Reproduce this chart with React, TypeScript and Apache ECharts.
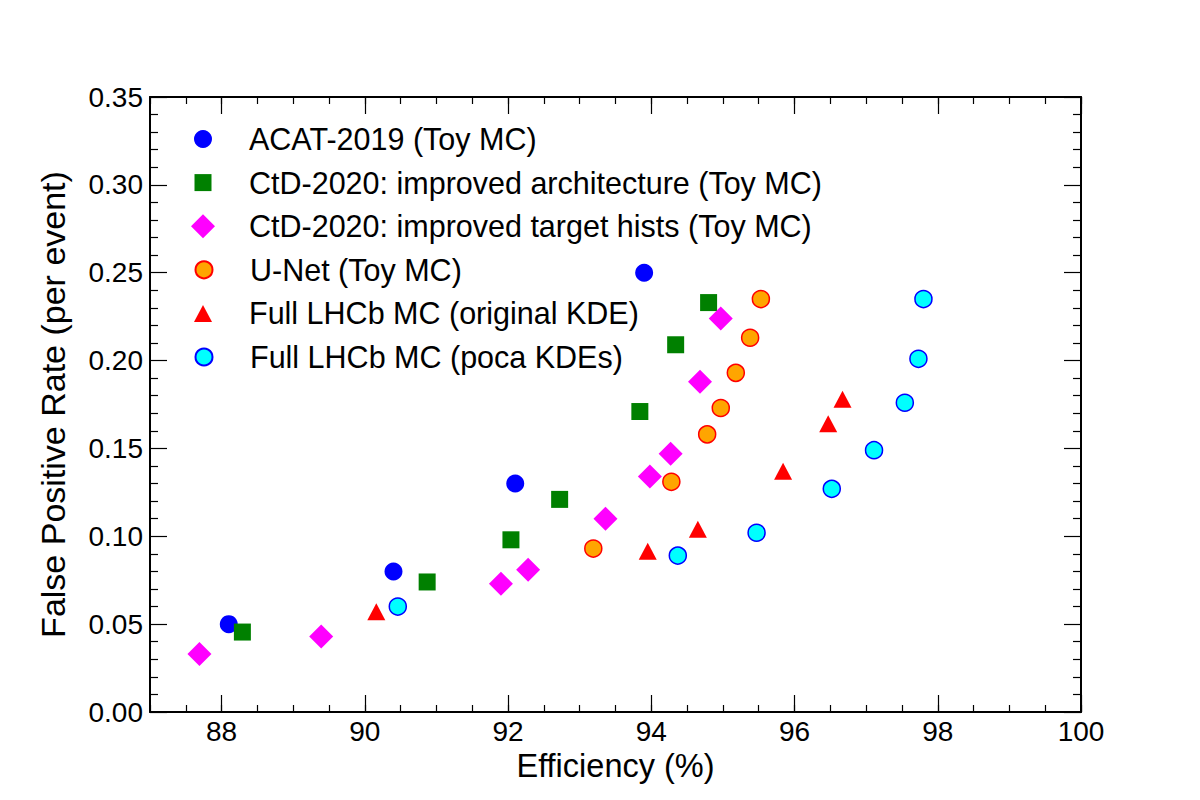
import React, { useEffect, useRef } from "react";
import * as echarts from "echarts";

const acat2019: [number, number][] = [
  [88.1, 0.05], [90.4, 0.08], [92.1, 0.13], [93.9, 0.25],
];
const ctdArch: [number, number][] = [
  [88.29, 0.0455], [90.87, 0.074], [92.04, 0.098], [92.72, 0.121],
  [93.84, 0.171], [94.34, 0.209], [94.8, 0.233],
];
const ctdTarget: [number, number][] = [
  [87.69, 0.033], [89.39, 0.043], [91.9, 0.073], [92.28, 0.081], [93.36, 0.11],
  [93.98, 0.134], [94.27, 0.147], [94.68, 0.188], [94.97, 0.224],
];
const uNet: [number, number][] = [
  [93.19, 0.093], [94.28, 0.131], [94.78, 0.158], [94.97, 0.173],
  [95.18, 0.193], [95.38, 0.213], [95.53, 0.235],
];
const lhcbOrig: [number, number][] = [
  [90.16, 0.057], [93.95, 0.0915], [94.65, 0.104], [95.84, 0.137],
  [96.47, 0.164], [96.67, 0.178],
];
const lhcbPoca: [number, number][] = [
  [90.46, 0.06], [94.37, 0.089], [95.47, 0.102], [96.52, 0.127],
  [97.11, 0.149], [97.54, 0.176], [97.73, 0.201], [97.8, 0.235],
];

const seriesNames = [
  "ACAT-2019 (Toy MC)",
  "CtD-2020: improved architecture (Toy MC)",
  "CtD-2020: improved target hists (Toy MC)",
  "U-Net (Toy MC)",
  "Full LHCb MC (original KDE)",
  "Full LHCb MC (poca KDEs)",
];
const legendIcons = ["circle", "rect", "diamond", "circle", "triangle", "circle"];
const legendSizes: [number, number][] = [[18, 18], [17, 17], [24, 24], [17, 17], [18, 17], [17, 17]];

const FONT = "Liberation Sans, Arial, Helvetica, sans-serif";

export default function App() {
  const ref = useRef<HTMLDivElement>(null);
  useEffect(() => {
    if (!ref.current) return;
    const chart = echarts.init(ref.current, undefined, { renderer: "svg" });
    const L = 150, R = 119, T = 97, B = 88;
    const plotW = 1200 - L - R;
    const grid2Left = L + plotW / 13;
    const tickStyle = { color: "#000", width: 1.2 };
    const LEG_FS = 30.5;
    const LEG_LH = 31;
    const iconCx = 203;
    const textX = 249;
    const rowY0 = 139;
    const rowDy = 43.6;
    const legends = seriesNames.map((name, i) => {
      const [w, h] = legendSizes[i];
      return {
        orient: "vertical",
        left: iconCx - w / 2,
        top: rowY0 + i * rowDy - Math.max(h, LEG_LH) / 2,
        padding: 0,
        itemWidth: w,
        itemHeight: h,
        selectedMode: false,
        textStyle: {
          fontFamily: FONT,
          fontSize: LEG_FS,
          lineHeight: LEG_LH,
          color: "#000",
          padding: [0, 0, 0, textX - (iconCx + w / 2) - 5],
        },
        data: [{ name, icon: legendIcons[i] }],
      };
    });
    chart.setOption({
      animation: false,
      backgroundColor: "#fff",
      textStyle: { fontFamily: FONT },
      grid: [
        { left: L, right: R, top: T, bottom: B },
        { left: grid2Left, right: R, top: T, bottom: B },
      ],
      legend: legends,
      xAxis: [
        {
          type: "value",
          gridIndex: 0,
          position: "bottom",
          min: 87,
          max: 100,
          interval: 0.5,
          name: "Efficiency (%)",
          nameLocation: "middle",
          nameGap: 36,
          nameTextStyle: { fontFamily: FONT, fontSize: 32.5, color: "#000" },
          axisLine: { show: true, onZero: false, lineStyle: { color: "#000", width: 2 } },
          axisTick: { show: true, inside: true, length: 7, lineStyle: tickStyle },
          axisLabel: {
            fontFamily: FONT,
            fontSize: 28,
            color: "#000",
            margin: 5,
            formatter: (v: number) => (Math.abs(v % 2) < 1e-9 ? String(v) : ""),
          },
          splitLine: { show: false },
        },
        {
          type: "value",
          gridIndex: 0,
          position: "top",
          min: 87,
          max: 100,
          interval: 0.5,
          axisLine: { show: true, onZero: false, lineStyle: { color: "#000", width: 2 } },
          axisTick: { show: true, inside: true, length: 7, lineStyle: tickStyle },
          axisLabel: { show: false },
          splitLine: { show: false },
        },
        {
          type: "value",
          gridIndex: 1,
          position: "bottom",
          min: 88,
          max: 100,
          interval: 2,
          axisLine: { show: false },
          axisTick: { show: true, inside: true, length: 17, lineStyle: tickStyle },
          axisLabel: { show: false },
          splitLine: { show: false },
        },
        {
          type: "value",
          gridIndex: 1,
          position: "top",
          min: 88,
          max: 100,
          interval: 2,
          axisLine: { show: false },
          axisTick: { show: true, inside: true, length: 17, lineStyle: tickStyle },
          axisLabel: { show: false },
          splitLine: { show: false },
        },
      ],
      yAxis: [
        {
          type: "value",
          gridIndex: 0,
          position: "left",
          min: 0,
          max: 0.35,
          interval: 0.05,
          name: "False Positive Rate (per event)",
          nameLocation: "middle",
          nameGap: 80,
          nameTextStyle: { fontFamily: FONT, fontSize: 34, color: "#000" },
          axisLine: { show: true, onZero: false, lineStyle: { color: "#000", width: 2 } },
          axisTick: { show: true, inside: true, length: 17, lineStyle: tickStyle },
          minorTick: { show: true, splitNumber: 5, length: 8, lineStyle: tickStyle },
          axisLabel: {
            fontFamily: FONT,
            fontSize: 28,
            color: "#000",
            margin: 7,
            formatter: (v: number) => v.toFixed(2),
          },
          splitLine: { show: false },
          minorSplitLine: { show: false },
        },
        {
          type: "value",
          gridIndex: 0,
          position: "right",
          min: 0,
          max: 0.35,
          interval: 0.05,
          axisLine: { show: true, onZero: false, lineStyle: { color: "#000", width: 2 } },
          axisTick: { show: true, inside: true, length: 17, lineStyle: tickStyle },
          minorTick: { show: true, splitNumber: 5, length: 8, lineStyle: tickStyle },
          axisLabel: { show: false },
          splitLine: { show: false },
          minorSplitLine: { show: false },
        },
        {
          type: "value",
          gridIndex: 1,
          min: 0,
          max: 0.35,
          show: false,
        },
      ],
      series: [
        {
          name: seriesNames[0],
          type: "scatter",
          data: acat2019,
          symbol: "circle",
          symbolSize: 18,
          itemStyle: { color: "#0000ff", opacity: 1 },
        },
        {
          name: seriesNames[1],
          type: "scatter",
          data: ctdArch,
          symbol: "rect",
          symbolSize: 17,
          itemStyle: { color: "#008000", opacity: 1 },
        },
        {
          name: seriesNames[2],
          type: "scatter",
          data: ctdTarget,
          symbol: "diamond",
          symbolSize: 24,
          itemStyle: { color: "#ff00ff", opacity: 1 },
        },
        {
          name: seriesNames[3],
          type: "scatter",
          data: uNet,
          symbol: "circle",
          symbolSize: 17,
          itemStyle: { color: "#ffa500", borderColor: "#ff0000", borderWidth: 1.5, opacity: 1 },
        },
        {
          name: seriesNames[4],
          type: "scatter",
          data: lhcbOrig,
          symbol: "triangle",
          symbolSize: [18, 17],
          itemStyle: { color: "#ff0000", opacity: 1 },
        },
        {
          name: seriesNames[5],
          type: "scatter",
          data: lhcbPoca,
          symbol: "circle",
          symbolSize: 17,
          itemStyle: { color: "#00ffff", borderColor: "#0000ff", borderWidth: 1.5, opacity: 1 },
        },
      ].map((s) => ({ ...s, xAxisIndex: 0, yAxisIndex: 0, emphasis: { disabled: true } })),
    });
    return () => chart.dispose();
  }, []);
  return (
    <div
      ref={ref}
      style={{ position: "fixed", left: 0, top: 0, width: 1200, height: 800, background: "#fff" }}
    />
  );
}
